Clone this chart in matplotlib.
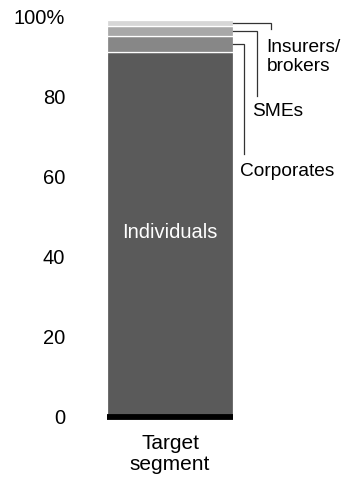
import matplotlib

matplotlib.use("Agg")
import matplotlib.pyplot as plt

plt.rcParams["font.family"] = ["Liberation Sans", "DejaVu Sans"]

# Share of target segment, bottom to top (%)
segments = ["Individuals", "Corporates", "SMEs", "Insurers/\nbrokers"]
shares = [91, 4, 2.5, 1.5]
colors = ["#5a5a5a", "#878787", "#a8a8a8", "#d6d6d6"]
yticks = [0, 20, 40, 60, 80, 100]
ytick_labels = ["0", "20", "40", "60", "80", "100%"]
category = "Target\nsegment"

W, H = 341, 483
fig = plt.figure(figsize=(W / 100, H / 100), dpi=100)
# axes placed in pixels: bar spans x 107-233, y-range 0..100 maps to 416..16
ax = fig.add_axes([107 / W, (H - 416) / H, 126 / W, 400 / H])

bottom = 0
mids = []
for name, val, col in zip(segments, shares, colors):
    ax.bar(0, val, bottom=bottom, width=1.0, color=col,
           edgecolor="white", linewidth=0.9)
    mids.append(bottom + val / 2)
    bottom += val

ax.text(0, 46, segments[0], color="white", fontsize=14.5,
        ha="center", va="center")

# leader lines for the thin segments on top
# (elbow x, vertical end y, label y, label va)
leaders = [
    (0.59, 65.5, 61.2, "center"),
    (0.69, 80.0, 76.0, "center"),
    (0.80, 96.8, 94.3, "top"),
]
for (ex, ey, ty, va), mid, name in zip(leaders, mids[1:], segments[1:]):
    ax.plot([0.5, ex, ex], [mid, mid, ey], color="#333333", linewidth=0.9,
            clip_on=False, solid_joinstyle="miter")
    ax.text(ex - 0.035, ty, name, fontsize=13.8, ha="left", va=va,
            linespacing=1.2, clip_on=False)

ax.hlines(-0.3, -0.5, 0.5, color="black", linewidth=4.2, clip_on=False)

ax.set_xlim(-0.5, 0.5)
ax.set_ylim(0, 100)
ax.set_yticks(yticks)
ax.set_yticklabels(ytick_labels, fontsize=14.5)
ax.set_xticks([0])
ax.set_xticklabels([category], fontsize=15, linespacing=1.15)
ax.tick_params(axis="y", length=0, pad=30)
ax.tick_params(axis="x", length=0, pad=13)
for spine in ax.spines.values():
    spine.set_visible(False)

fig.savefig("out.png", dpi=100)
plt.close(fig)
